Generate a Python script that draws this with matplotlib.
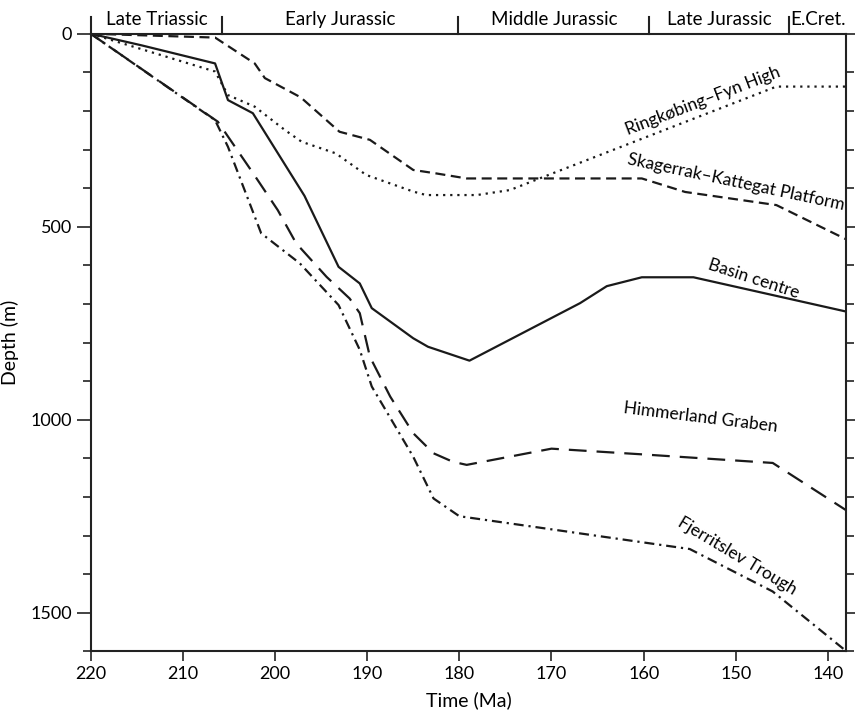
import matplotlib
matplotlib.use("Agg")
from matplotlib import pyplot as plt
from matplotlib.ticker import MultipleLocator

plt.rcParams['font.family'] = ['Lato', 'DejaVu Sans']

# subsidence curves, time (Ma) vs depth (m)
rfh_t = [220, 206.5, 205.1, 202.2, 198.9, 197.1, 193.4, 190.1, 185.0, 183.6, 178.1, 174.5, 171.3, 145.6, 138]
rfh_d = [0, 98, 159, 189, 250, 280, 310, 366, 409, 418, 418, 405, 375, 137, 137]

skp_t = [220, 206.5, 202.2, 201.1, 197.2, 193.0, 189.7, 185.0, 182.5, 179.2, 160.2, 155.5, 145.6, 138]
skp_d = [0, 10, 77, 115, 165, 254, 275, 353, 362, 375, 375, 410, 444, 533]

bc_t = [220, 214.5, 206.5, 205.1, 202.4, 196.8, 193.1, 190.8, 189.5, 185.0, 183.4, 178.9, 166.9, 164.0, 160.2, 154.6, 138]
bc_d = [0, 30, 77, 172, 206, 420, 604, 647, 711, 789, 811, 847, 698, 654, 631, 631, 720]

hg_t = [220, 206.2, 202.5, 199.7, 197.7, 194.4, 191.9, 190.8, 189.7, 187.5, 185.0, 182.8, 180.7, 179.2, 170, 160, 146, 138]
hg_d = [0, 228, 357, 457, 543, 630, 686, 724, 837, 940, 1035, 1087, 1109, 1117, 1075, 1090, 1112, 1235]

ft_t = [220, 206.5, 205.1, 201.5, 197.3, 193.1, 190.8, 189.5, 185.0, 182.8, 180, 155, 146, 138]
ft_d = [0, 224, 293, 517, 595, 703, 819, 914, 1096, 1204, 1250, 1335, 1445, 1600]

periods = ['Late Triassic', 'Early Jurassic', 'Middle Jurassic', 'Late Jurassic', 'E.Cret.']
bounds = [220, 205.7, 180.1, 159.4, 144.2, 138]

fig = plt.figure(figsize=(8.55, 7.17), dpi=100)
ax = fig.add_axes([0.106, 0.0916, 0.884, 0.8614])

lw = 1.6
c = '#1a1a1a'
ax.plot(rfh_t, rfh_d, color=c, lw=lw, linestyle=(0, (1, 2.2)))
ax.plot(skp_t, skp_d, color=c, lw=lw, linestyle=(0, (4.5, 2.5)))
ax.plot(bc_t, bc_d, color=c, lw=lw, linestyle='-')
ax.plot(hg_t, hg_d, color=c, lw=lw, linestyle=(0, (8, 4.5)))
ax.plot(ft_t, ft_d, color=c, lw=lw, linestyle=(0, (4.5, 2.2, 1, 2.2)))

ax.set_xlim(220, 138)
ax.set_ylim(1600, 0)
ax.xaxis.set_major_locator(MultipleLocator(10))
ax.yaxis.set_major_locator(MultipleLocator(500))
ax.yaxis.set_minor_locator(MultipleLocator(100))
ax.tick_params(axis='both', which='both', direction='out', labelsize=13, width=1.2, color='#222222')
ax.tick_params(axis='x', length=7)
ax.tick_params(axis='y', which='major', length=10, right=True)
ax.tick_params(axis='y', which='minor', length=6, right=True)
for s in ax.spines.values():
    s.set_linewidth(1.5)
    s.set_color('#222222')

ax.set_xlabel('Time (Ma)', fontsize=14, labelpad=7)
ax.set_ylabel('Depth (m)', fontsize=14, labelpad=8)

# period band above the plot
ax.plot([0, 0], [1, 1.0275], transform=ax.transAxes, color='#222222', lw=1.5, clip_on=False)
for b in bounds[1:-1]:
    ax.plot([b, b], [0, -42], color='#222222', lw=1.5, clip_on=False)
for i, name in enumerate(periods):
    mid = (bounds[i] + bounds[i + 1]) / 2
    ax.text(mid, -36, name, ha='center', va='center', fontsize=13.5)

lab = dict(fontsize=12.5, ha='center', va='center', rotation_mode='anchor')
ax.text(153.6, 174, 'Ringkøbing–Fyn High', rotation=21, **lab)
ax.text(150.0, 385, 'Skagerrak–Kattegat Platform', rotation=-12, **lab)
ax.text(148.1, 635, 'Basin centre', rotation=-18, **lab)
ax.text(153.8, 995, 'Himmerland Graben', rotation=-7, **lab)
ax.text(149.8, 1352, 'Fjerritslev Trough', rotation=-31, **lab)

fig.savefig('out.png', dpi=100)
